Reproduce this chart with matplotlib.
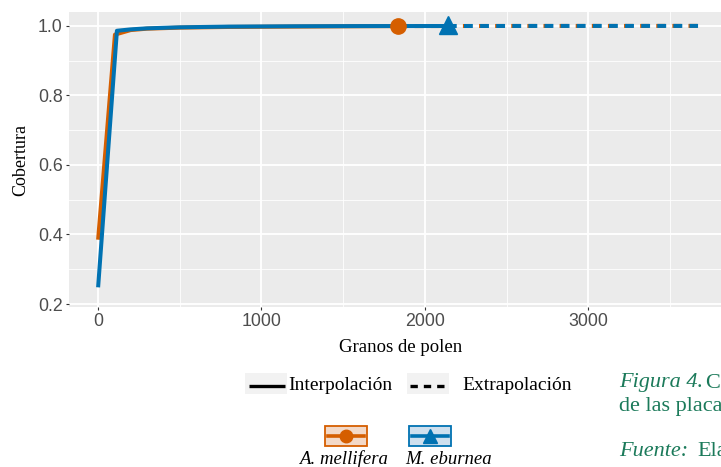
import matplotlib.pyplot as plt
from matplotlib.lines import Line2D
from matplotlib.patches import Rectangle

# sample-coverage curves (granos de polen vs cobertura)
mell_x = [1, 104, 200, 300, 500, 800, 1200, 1600, 1838]
mell_y = [0.385, 0.975, 0.988, 0.992, 0.995, 0.997, 0.998, 0.999, 0.9995]
mell_ext_x = [1838, 2400, 3000, 3670]
mell_ext_y = [0.9995, 0.9998, 0.9999, 1.0]

ebur_x = [1, 116, 200, 300, 500, 800, 1200, 1600, 2140]
ebur_y = [0.248, 0.986, 0.990, 0.993, 0.996, 0.998, 0.999, 0.9995, 0.9997]
ebur_ext_x = [2140, 2600, 3100, 3670]
ebur_ext_y = [0.9997, 0.9999, 1.0, 1.0]

# observed reference samples
mell_obs = (1838, 0.9995)
ebur_obs = (2140, 1.002)

ORANGE = "#D55E00"
BLUE = "#0072B2"
GREEN = "#1B7A5A"

fig = plt.figure(figsize=(7.21, 4.67), dpi=100)
ax = fig.add_axes([0.0957, 0.3426, 0.921, 0.6317])
ax.set_facecolor("#EBEBEB")
for s in ax.spines.values():
    s.set_visible(False)

ax.set_xlim(-177, 3884)
ax.set_ylim(0.1914, 1.040)
ax.set_xticks([0, 1000, 2000, 3000])
ax.set_xticks([500, 1500, 2500, 3500], minor=True)
ax.set_yticks([0.2, 0.4, 0.6, 0.8, 1.0])
ax.set_yticks([0.3, 0.5, 0.7, 0.9], minor=True)
ax.set_yticklabels(["0.2", "0.4", "0.6", "0.8", "1.0"])
ax.grid(True, which="major", color="white", lw=1.3)
ax.grid(True, which="minor", color="white", lw=0.6)
ax.set_axisbelow(True)
ax.tick_params(which="major", length=2.5, width=0.8, color="#333333",
               labelsize=12.8, labelcolor="#4D4D4D", pad=2,
               labelfontfamily="Liberation Sans")
ax.tick_params(which="minor", length=0)

lw = 2.9
ax.plot(mell_x, mell_y, color=ORANGE, lw=lw, solid_capstyle="butt", zorder=3)
ax.plot(mell_ext_x, mell_ext_y, color=ORANGE, lw=lw, dashes=(2.2, 1.8),
        dash_capstyle="butt", zorder=3)
ax.plot(ebur_x, ebur_y, color=BLUE, lw=lw, solid_capstyle="butt", zorder=4)
ax.plot(ebur_ext_x, ebur_ext_y, color=BLUE, lw=lw, dashes=(2.2, 1.8),
        dash_capstyle="butt", zorder=4)
ax.plot(*mell_obs, marker="o", ms=11, color=ORANGE, zorder=5)
ax.plot(*ebur_obs, marker="^", ms=13, color=BLUE, zorder=5)

ax.set_xlabel("Granos de polen", family="Liberation Serif", fontsize=13.5,
              labelpad=6)
ax.set_ylabel("Cobertura", family="Liberation Serif", fontsize=13,
              labelpad=6)

# legend: line types
W, H = 721, 467


def fx(px):
    return px / W


def fy(py):
    return 1 - py / H


key_bg = "#F2F2F2"
fig.patches.append(Rectangle((fx(245), fy(394)), fx(42), 21 / H,
                             transform=fig.transFigure, fc=key_bg, ec="none"))
fig.lines.append(Line2D([fx(249), fx(285)], [fy(386), fy(386)], color="black",
                        lw=2.4, solid_capstyle="butt", transform=fig.transFigure))
fig.text(fx(288), fy(386), "Interpolación", family="Liberation Serif",
         fontsize=14, va="center")

fig.patches.append(Rectangle((fx(407), fy(394)), fx(42), 21 / H,
                             transform=fig.transFigure, fc=key_bg, ec="none"))
fig.lines.append(Line2D([fx(410), fx(447)], [fy(386), fy(386)], color="black",
                        lw=2.4, dashes=(2.2, 1.8), dash_capstyle="butt",
                        transform=fig.transFigure))
fig.text(fx(462), fy(386), "Extrapolación", family="Liberation Serif",
         fontsize=14, va="center")

# legend: species (label x, alignment)
species = [("A. mellifera", ORANGE, "#F3D9C8", "o", 9, 325, 343, "center"),
           ("M. eburnea", BLUE, "#CFE0EE", "^", 10, 409, 405, "left")]
for name, col, fill, mk, ms, x0, tx, ha in species:
    fig.patches.append(Rectangle((fx(x0), fy(446)), fx(42), 20 / H,
                                 transform=fig.transFigure, fc=fill, ec=col,
                                 lw=1.3))
    fig.lines.append(Line2D([fx(x0 + 3), fx(x0 + 39)], [fy(436), fy(436)],
                            color=col, lw=2.6, transform=fig.transFigure))
    fig.lines.append(Line2D([fx(x0 + 21)], [fy(436)], color=col, marker=mk,
                            ms=ms, transform=fig.transFigure))
    fig.text(fx(tx), fy(459), name, family="Liberation Serif",
             style="italic", fontsize=13.5, ha=ha, va="center")

# caption fragment on the right
fig.text(fx(619), fy(383), "Figura 4.", family="Liberation Serif",
         style="italic", fontsize=16, color=GREEN, va="center")
fig.text(fx(705), fy(383), "C", family="Liberation Serif",
         fontsize=16, color=GREEN, va="center")
fig.text(fx(619), fy(407), "de las placas", family="Liberation Serif",
         fontsize=16, color=GREEN, va="center")
fig.text(fx(619), fy(451), "Fuente:", family="Liberation Serif",
         style="italic", fontsize=16, color=GREEN, va="center")
fig.text(fx(697), fy(451), "Elaboración", family="Liberation Serif",
         fontsize=16, color=GREEN, va="center")

fig.savefig("out.png", dpi=100)
